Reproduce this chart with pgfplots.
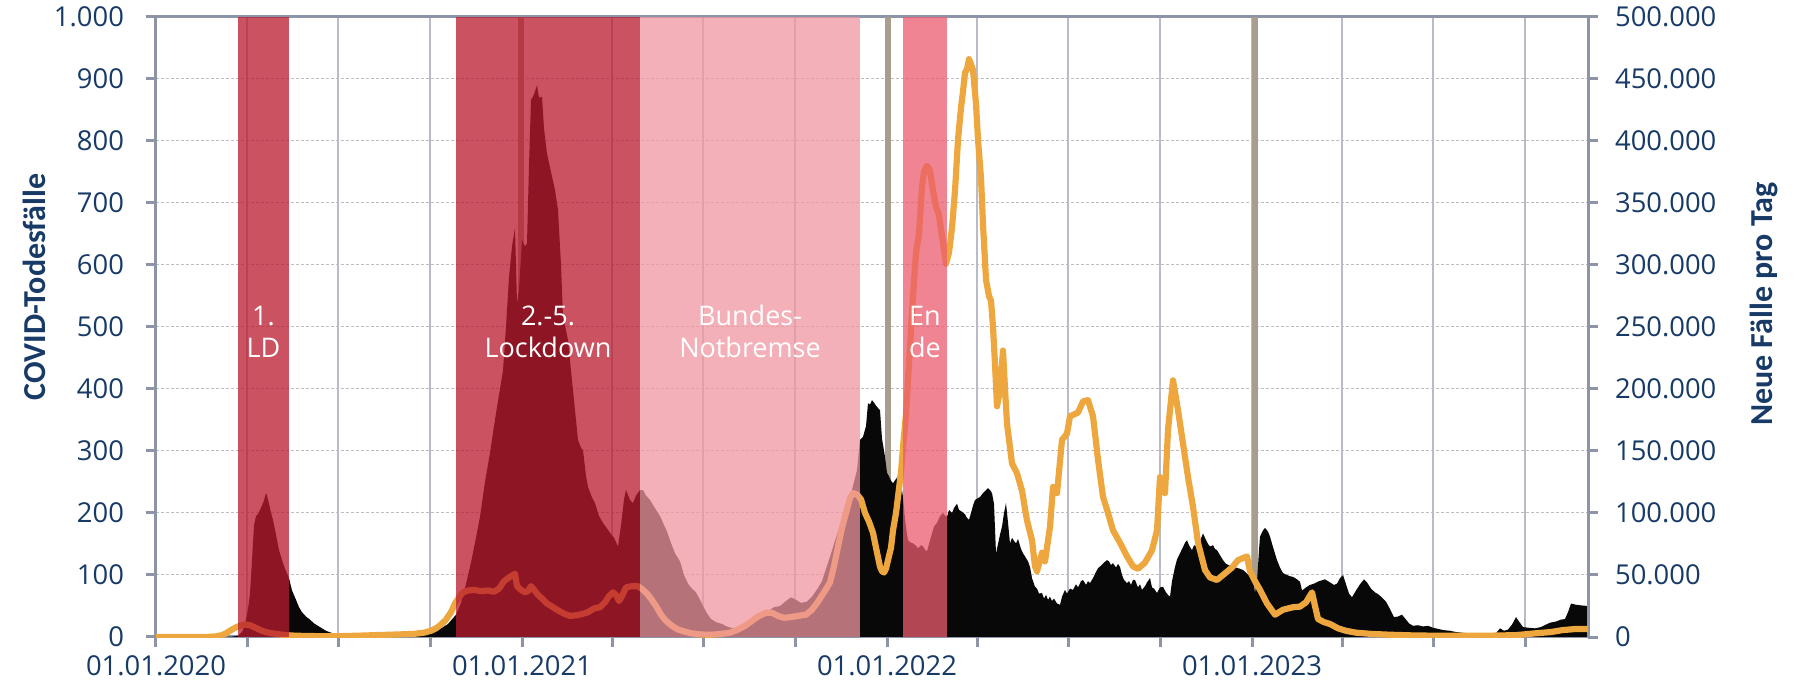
\documentclass[border=0pt]{standalone}
\usepackage{fontspec}
\setmainfont{Open Sans}
\newfontfamily\titlefont{Carlito}
\usepackage{pgfplots}
\pgfplotsset{compat=1.18}
\definecolor{navy}{RGB}{23,58,103}
\definecolor{axisc}{RGB}{141,148,168}
\definecolor{gridv}{RGB}{185,188,200}
\definecolor{gridh}{RGB}{190,190,190}
\definecolor{greybar}{RGB}{168,158,143}
\definecolor{blk}{RGB}{8,8,8}
\definecolor{orng}{RGB}{237,167,62}
\definecolor{ldred}{RGB}{185,26,46}
\definecolor{npink}{RGB}{240,150,160}
\definecolor{ende}{RGB}{235,91,109}
\pgfplotsset{
  base/.style={
    width=716pt, height=310pt, scale only axis,
    at={(0,0)}, anchor=south west,
    xmin=0, xmax=1432,
    /pgf/number format/fixed,
    /pgf/number format/precision=0,
    /pgf/number format/assume math mode=true,
    /pgf/number format/1000 sep={.},
    tick label style={font=\fontsize{13.7}{16}\selectfont, text=navy},
    tick align=outside, major tick length=5pt,
    every tick/.style={color=axisc, line width=1.5pt},
    axis line style={color=axisc, line width=1.5pt},
    label style={font=\titlefont\bfseries\fontsize{16}{19}\selectfont, text=navy},
  }
}
\begin{document}
\begin{tikzpicture}
\begin{axis}[base,
  ymin=0, ymax=1000,
  ytick={0,100,...,1000},
  xtick={0,91,182,274,366,456,547,639,731,821,912,1004,1096,1186,1277,1369},
  xticklabels={01.01.2020,,,,01.01.2021,,,,01.01.2022,,,,01.01.2023,,,},
  xtick pos=lower, ytick pos=left,
  yticklabel style={xshift=-7.5pt},
  xticklabel style={yshift=-1pt},
  xmajorgrids, ymajorgrids,
  major x grid style={color=gridv, line width=1.4pt},
  major y grid style={color=gridh, line width=0.5pt, dash pattern=on 1.5pt off 1pt},
  ylabel={COVID-Todesfälle},
  ylabel style={at={(axis description cs:-0.0852,0.5645)}, anchor=center},
]
% grey bars (holidays)
\addplot[fill=greybar, draw=none] coordinates {(362,1000) (368,1000)} \closedcycle;
\addplot[fill=greybar, draw=none] coordinates {(729,1000) (735,1000)} \closedcycle;
\addplot[fill=greybar, draw=none] coordinates {(1096,1000) (1101.5,1000)} \closedcycle;
% deaths
\addplot[fill=blk, draw=none] coordinates {
(0,0) (60,0) (75,0.5) (82,2) (86,8) (89,20) (92,45) (94,70) (96,124) (98,180) (100,195) (102,198) (104,205) (106,212) (108,220) (110,232) (111,228) (113,215) (115,200) (117,189) (120,165) (123,140) (126,124) (129,110) (133,95) (136,75) (140,60) (143,48) (146,40) (150,33) (154,28) (158,22) (162,18) (166,14) (170,10) (175,7) (181,5) (190,3) (200,2) (230,2) (260,3) (272,5) (280,10) (286,15) (292,21) (300,36) (305,55) (310,85) (315,120) (320,160) (324,194) (329,250) (334,297) (338,340) (341,371) (344,400) (347,430) (350,500) (353,580) (356,630) (359,659) (361,538) (363,560) (366,640) (369,630) (371,635) (373,760) (375,866) (378,875) (381,890) (383,870) (386,871) (388,820) (391,780) (395,750) (399,721) (402,689) (405,600) (407,517) (410,495) (412,479) (415,430) (417,398) (420,350) (422,318) (425,305) (427,301) (430,260) (432,242) (436,225) (439,216) (443,195) (447,184) (451,175) (454,168) (458,160) (462,146) (465,180) (468,222) (470,237) (474,221) (477,216) (480,228) (484,237) (487,237) (490,228) (494,221) (500,205) (504,195) (507,184) (511,170) (514,156) (519,135) (524,122) (528,100) (532,86) (536,78) (540,72) (544,60) (547,50) (551,38) (555,29) (560,24) (566,21) (572,16) (578,14) (584,17) (589,21) (595,28) (600,33) (605,36) (612,42) (618,48) (624,50) (630,58) (635,64) (640,60) (645,55) (651,57) (656,65) (662,79) (666,90) (670,110) (674,129) (678,150) (682,170) (686,190) (690,205) (694,225) (698,250) (701,269) (704,318) (707,323) (710,340) (712,377) (714,375) (716,382) (718,378) (721,371)
(724,366) (726,320) (729,291) (731,265) (733,259) (735,252) (737,248) (740,255) (742,259) (744,245) (746,237) (747,226) (749,190) (751,165) (752,156) (755,152) (757,151) (760,147) (762,143) (765,148) (767,146) (769,141) (771,138) (773,150) (776,167) (778,178) (781,184) (784,195) (787,200) (789,196) (791,194) (793,205) (796,200) (798,208) (801,215) (803,205) (806,202) (809,198) (811,192) (813,189) (815,200) (817,212) (819,221) (822,224) (824,226) (827,232) (830,237) (832,240) (834,237) (836,232) (838,215) (840,135) (842,150) (844,165) (846,178) (848,200) (850,216) (852,185) (854,151) (856,160) (858,155) (860,151) (862,158) (865,142) (867,135) (869,130) (872,122) (874,113) (876,95) (879,81) (881,78) (883,70) (886,71) (888,62) (890,68) (892,60) (894,65) (896,58) (898,62) (901,54) (904,52) (906,65) (909,76) (911,70) (914,78) (917,76) (920,85) (922,80) (925,90) (927,92) (930,84) (932,90) (934,87) (937,95) (940,105) (942,111) (945,115) (948,120) (951,124) (953,122) (955,116) (957,119) (960,112) (962,118) (964,113) (966,100) (968,92) (971,87) (973,90) (975,84) (977,92) (979,92) (982,80) (984,85) (986,76) (989,82) (991,88) (994,95) (996,80) (998,78) (1001,71) (1004,80) (1007,81) (1010,72) (1012,68) (1014,65) (1016,90) (1019,113) (1021,125) (1024,135) (1027,145) (1029,152) (1031,156) (1033,148) (1036,140) (1038,148) (1041,146) (1044,155) (1047,167) (1049,160) (1052,150) (1054,146) (1057,148) (1059,142) (1061,140) (1064,132) (1067,124) (1070,118) (1074,115) (1077,113) (1080,112) (1084,110) (1087,108) (1090,104) (1094,97) (1097,90) (1099,71) (1101,90) (1103,140) (1104,162) (1107,172) (1109,176) (1112,170) (1114,162) (1117,145) (1121,124) (1124,112) (1127,103) (1131,100) (1134,98) (1137,97) (1141,93) (1144,89)
(1146,75) (1150,80) (1154,84) (1158,86) (1163,90) (1169,93) (1174,88) (1178,84) (1181,86) (1184,95) (1187,100) (1190,85) (1193,70) (1196,64) (1200,75) (1204,85) (1208,93) (1211,88) (1215,78) (1219,72) (1223,68) (1227,62) (1230,57) (1234,45) (1238,32) (1242,33) (1246,36) (1250,28) (1253,22) (1257,18) (1262,19) (1267,17) (1272,18) (1277,15) (1282,13) (1288,11) (1294,10) (1300,8) (1306,7) (1311,6) (1318,5) (1324,3) (1330,2) (1335,3) (1340,6) (1344,14) (1348,10) (1352,12) (1356,20) (1360,32) (1363,25) (1367,16) (1372,15) (1379,14) (1385,16) (1390,20) (1394,23) (1400,25) (1405,28) (1409,29) (1412,40) (1415,54) (1420,52) (1425,51) (1432,50)
} \closedcycle;
\end{axis}
\begin{axis}[base,
  axis x line=none, axis y line*=right,
  ymin=0, ymax=500000,
  ytick={0,50000,100000,150000,200000,250000,300000,350000,400000,450000,500000},
  scaled y ticks=false,
  ytick pos=right,
  yticklabel style={xshift=5pt},
  ylabel={Neue Fälle pro Tag},
  ylabel style={at={(axis description cs:1.1229,0.537)}, anchor=center},
]
\addplot[color=orng, line width=3.1pt, line join=round] coordinates {
(0,0) (50,0) (60,500) (66,1500) (70,3000) (74,5000) (78,7000) (82,8500) (86,9500) (90,10000) (94,9500) (98,8000) (102,6500) (106,5000) (110,4000) (116,3000) (122,2300) (130,1500) (140,1000) (160,700) (180,600) (200,1000) (220,1500) (240,2000) (258,2500) (268,3500) (275,5000) (280,7000) (285,10000) (290,14000) (295,20000) (299,27000) (303,32000) (307,36000) (312,37500) (318,38000) (325,37000) (332,37500) (338,36500) (343,39000) (348,45000) (353,48000) (357,50000) (359,51000) (361,41000) (365,38000) (369,36000) (372,37000) (375,41000) (378,38000) (382,34000) (386,31000) (391,27000) (397,24000) (403,21000) (409,18500) (414,17000) (420,17500) (426,18500) (432,20000) (438,23000) (444,24000) (449,28000) (453,33000) (457,36000) (460,34000) (463,29000) (466,33000) (470,40000) (476,41000) (482,41000) (487,38000) (491,35000) (494,32000) (500,25000) (505,18000) (510,13000) (516,9000) (522,6000) (528,4500) (535,3000) (545,2000) (555,1800) (565,2500) (574,3500) (582,6000) (589,9000) (596,13000) (603,17000) (610,19500) (616,19500) (622,17000) (628,15500) (634,16000) (642,17000) (650,18000) (656,22000) (662,28500) (668,36000) (674,44000) (678,57000) (682,73000) (686,88000) (690,100000) (694,112000) (697,116000) (701,115000) (705,111000) (709,100000) (713,93000) (717,84000) (720,72000) (724,56700) (726,53000) (728,52000) (730,55000) (732,62000) (735,72000) (737,86000) (740,100000) (742,113000) (745,133000) (747,153000) (750,180000) (752,207000) (754,235000) (757,275000) (760,310000) (763,325000) (766,363000) (768,375000) (771,380000) (774,376000) (777,360000) (780,347000) (783,340000) (786,323000) (788,312000) (790,301000) (793,310000) (796,330000) (799,360000) (802,401000) (805,427000) (807,440000) (809,455000) (811,458000) (813,466000) (815,462000) (817,457000) (820,430000) (822,401000) (825,370000) (827,333000) (830,288000) (833,275000) (835,271000) (837,250000) (839,220000) (841,186000) (844,199000) (847,231000) (849,200000) (851,172000) (856,140000) (861,132000) (866,118000) (871,94000) (876,78000) (879,57000) (881,53000) (884,62000) (886,68000) (889,61000) (894,89000) (897,121000) (901,116000) (906,159000) (911,164000) (914,178000) (922,181000) (927,190000) (932,191000) (937,178000) (942,143000) (947,113000) (952,100000) (957,86000) (964,76000) (971,65000) (977,57000) (982,55000) (989,60000) (996,70000) (1001,86000) (1004,129000) (1007,120000) (1009,116000) (1012,167000) (1017,207000) (1022,183000) (1027,156000) (1032,129000) (1037,105000) (1042,76000) (1049,54000) (1054,48000) (1061,46000) (1067,50000) (1076,56000) (1082,62000) (1091,65000) (1094,53000) (1099,45000) (1104,38000) (1111,27000) (1119,18000) (1127,22000) (1137,24000) (1144,24500) (1150,28000) (1156,36000) (1159,25000) (1162,14500) (1168,12000) (1174,10500) (1182,7000) (1190,5000) (1200,3500) (1215,2500) (1235,1800) (1260,1200) (1290,1000) (1330,1000) (1360,1500) (1380,3000) (1395,4000) (1406,5500) (1420,6500) (1432,6500)
};
% measure periods (transparent overlays)
\addplot[fill=ldred, fill opacity=0.755, draw=none] coordinates {(82,500000) (133,500000)} \closedcycle;
\addplot[fill=ldred, fill opacity=0.755, draw=none] coordinates {(300,500000) (484,500000)} \closedcycle;
\addplot[fill=npink, fill opacity=0.75, draw=none] coordinates {(484,500000) (704,500000)} \closedcycle;
\addplot[fill=ende, fill opacity=0.75, draw=none] coordinates {(747,500000) (791,500000)} \closedcycle;
\begin{scope}[every node/.style={anchor=base, text=white, font=\fontsize{13.5}{16}\selectfont, inner sep=0pt}]
\node at (axis cs:107.5,251600) {1.};
\node at (axis cs:107.5,225800) {LD};
\node at (axis cs:392,251600) {2.-5.};
\node at (axis cs:392,225800) {Lockdown};
\node at (axis cs:594,251600) {Bundes-};
\node at (axis cs:594,225800) {Notbremse};
\node at (axis cs:769,251600) {En};
\node at (axis cs:769,225800) {de};
\end{scope}
\end{axis}
\pgfresetboundingbox
\path[use as bounding box] (-78pt,-29pt) rectangle (820.5pt,318.5pt);
\end{tikzpicture}
\end{document}
